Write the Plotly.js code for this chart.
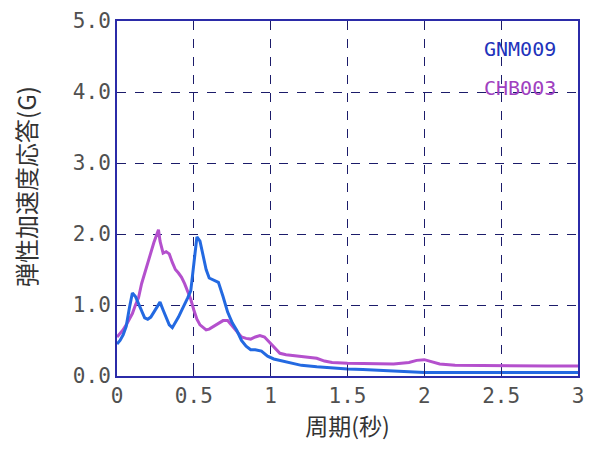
<!DOCTYPE html>
<html>
<head>
<meta charset="utf-8">
<script src="https://cdn.plot.ly/plotly-3.0.1.min.js"></script>
<style>html,body{margin:0;padding:0;background:#fff;}#chart{width:589px;height:451px;}</style>
</head>
<body>
<div id="chart"></div>
<script>
// Series names
const seriesNames = ["GNM009", "CHB003"];

// GNM009 (blue)
const gnmPeriod = [0.0,0.02,0.04,0.06,0.08,0.1,0.12,0.14,0.16,0.18,0.2,0.22,0.24,0.26,0.28,0.3,0.32,0.34,0.36,0.38,0.4,0.42,0.44,0.46,0.48,0.5,0.52,0.54,0.56,0.58,0.6,0.63,0.66,0.69,0.72,0.75,0.78,0.81,0.84,0.87,0.9,0.94,0.98,1.02,1.06,1.1,1.15,1.2,1.3,1.4,1.5,1.6,1.7,1.8,1.9,2.0,2.2,2.5,2.8,3.0];
const gnmAccel = [0.45,0.5,0.58,0.7,0.95,1.17,1.12,1.02,0.93,0.82,0.8,0.83,0.9,0.98,1.04,0.93,0.82,0.72,0.68,0.75,0.83,0.92,1.0,1.1,1.2,1.55,1.96,1.9,1.7,1.5,1.38,1.35,1.32,1.12,0.9,0.75,0.64,0.5,0.42,0.37,0.37,0.35,0.28,0.24,0.22,0.2,0.17,0.15,0.13,0.11,0.1,0.09,0.08,0.07,0.06,0.05,0.05,0.05,0.05,0.05];

// CHB003 (purple)
const chbPeriod = [0.0,0.02,0.04,0.06,0.08,0.1,0.12,0.14,0.16,0.18,0.2,0.22,0.24,0.26,0.27,0.28,0.3,0.32,0.34,0.36,0.38,0.4,0.42,0.44,0.46,0.48,0.5,0.52,0.54,0.56,0.58,0.6,0.63,0.66,0.69,0.72,0.75,0.78,0.81,0.84,0.87,0.9,0.93,0.96,0.99,1.02,1.06,1.1,1.15,1.2,1.25,1.3,1.35,1.4,1.5,1.6,1.7,1.8,1.9,1.95,2.0,2.05,2.1,2.2,2.5,2.8,3.0];
const chbAccel = [0.55,0.6,0.65,0.72,0.8,0.88,1.0,1.1,1.3,1.45,1.6,1.72,1.88,2.0,2.06,1.9,1.73,1.75,1.72,1.6,1.5,1.45,1.39,1.3,1.2,1.08,0.93,0.8,0.72,0.68,0.65,0.66,0.7,0.75,0.78,0.78,0.7,0.62,0.55,0.53,0.52,0.55,0.57,0.55,0.48,0.4,0.32,0.3,0.29,0.28,0.27,0.25,0.21,0.19,0.18,0.18,0.17,0.17,0.19,0.22,0.23,0.2,0.17,0.15,0.14,0.14,0.14];

// Tick labels
const xTickVals = [0,0.5,1,1.5,2,2.5,3];
const xTickText = ["0","0.5","1","1.5","2","2.5","3"];
const yTickVals = [0,1,2,3,4,5];
const yTickText = ["0.0","1.0","2.0","3.0","4.0","5.0"];

const xTitle = "周期(秒)";
const yTitle = "弾性加速度応答(G)";

const blue = "rgb(35,105,225)";
const purple = "rgb(180,80,205)";
const navy = "#1c1c6a";

const traces = [
  {x: chbPeriod, y: chbAccel, name: seriesNames[1], mode: "lines", line: {color: purple, width: 3}},
  {x: gnmPeriod, y: gnmAccel, name: seriesNames[0], mode: "lines", line: {color: blue, width: 3}}
];

const tickFont = {family: "DejaVu Sans Mono", size: 21, color: "#505050"};

const layout = {
  width: 589, height: 451,
  margin: {l: 117, r: 11, t: 21, b: 75},
  paper_bgcolor: "#fff", plot_bgcolor: "#fff",
  showlegend: false,
  xaxis: {
    range: [0, 3], tickvals: xTickVals, ticktext: xTickText,
    showgrid: true, gridcolor: navy, griddash: "dash", gridwidth: 1,
    showline: true, linecolor: "#2b2ba8", linewidth: 2, mirror: true,
    ticks: "inside", ticklen: 8, tickcolor: navy,
    tickfont: tickFont, zeroline: false,
    title: {text: xTitle, font: {family: "Noto Sans CJK JP", size: 23, color: "#333"}, standoff: 10}
  },
  yaxis: {
    range: [0, 5], tickvals: yTickVals, ticktext: yTickText,
    showgrid: true, gridcolor: navy, griddash: "dash", gridwidth: 1,
    showline: true, linecolor: "#2b2ba8", linewidth: 2, mirror: true,
    ticks: "inside", ticklen: 8, tickcolor: navy,
    tickfont: tickFont, zeroline: false
  },
  annotations: [
    {xref: "paper", yref: "paper", x: -0.2, y: 0.535, xanchor: "center", yanchor: "middle", textangle: -90, text: yTitle, showarrow: false, font: {family: "Noto Sans CJK JP", size: 24, color: "#333"}},
    {x: 2.87, y: 4.6, xref: "x", yref: "y", xanchor: "right", yanchor: "middle", text: seriesNames[0], showarrow: false, font: {family: "DejaVu Sans Mono", size: 20, color: "#2233bb"}},
    {x: 2.87, y: 4.05, xref: "x", yref: "y", xanchor: "right", yanchor: "middle", text: seriesNames[1], showarrow: false, font: {family: "DejaVu Sans Mono", size: 20, color: "#a040c0"}}
  ]
};

Plotly.newPlot("chart", traces, layout, {staticPlot: true, displayModeBar: false});
</script>
</body>
</html>
